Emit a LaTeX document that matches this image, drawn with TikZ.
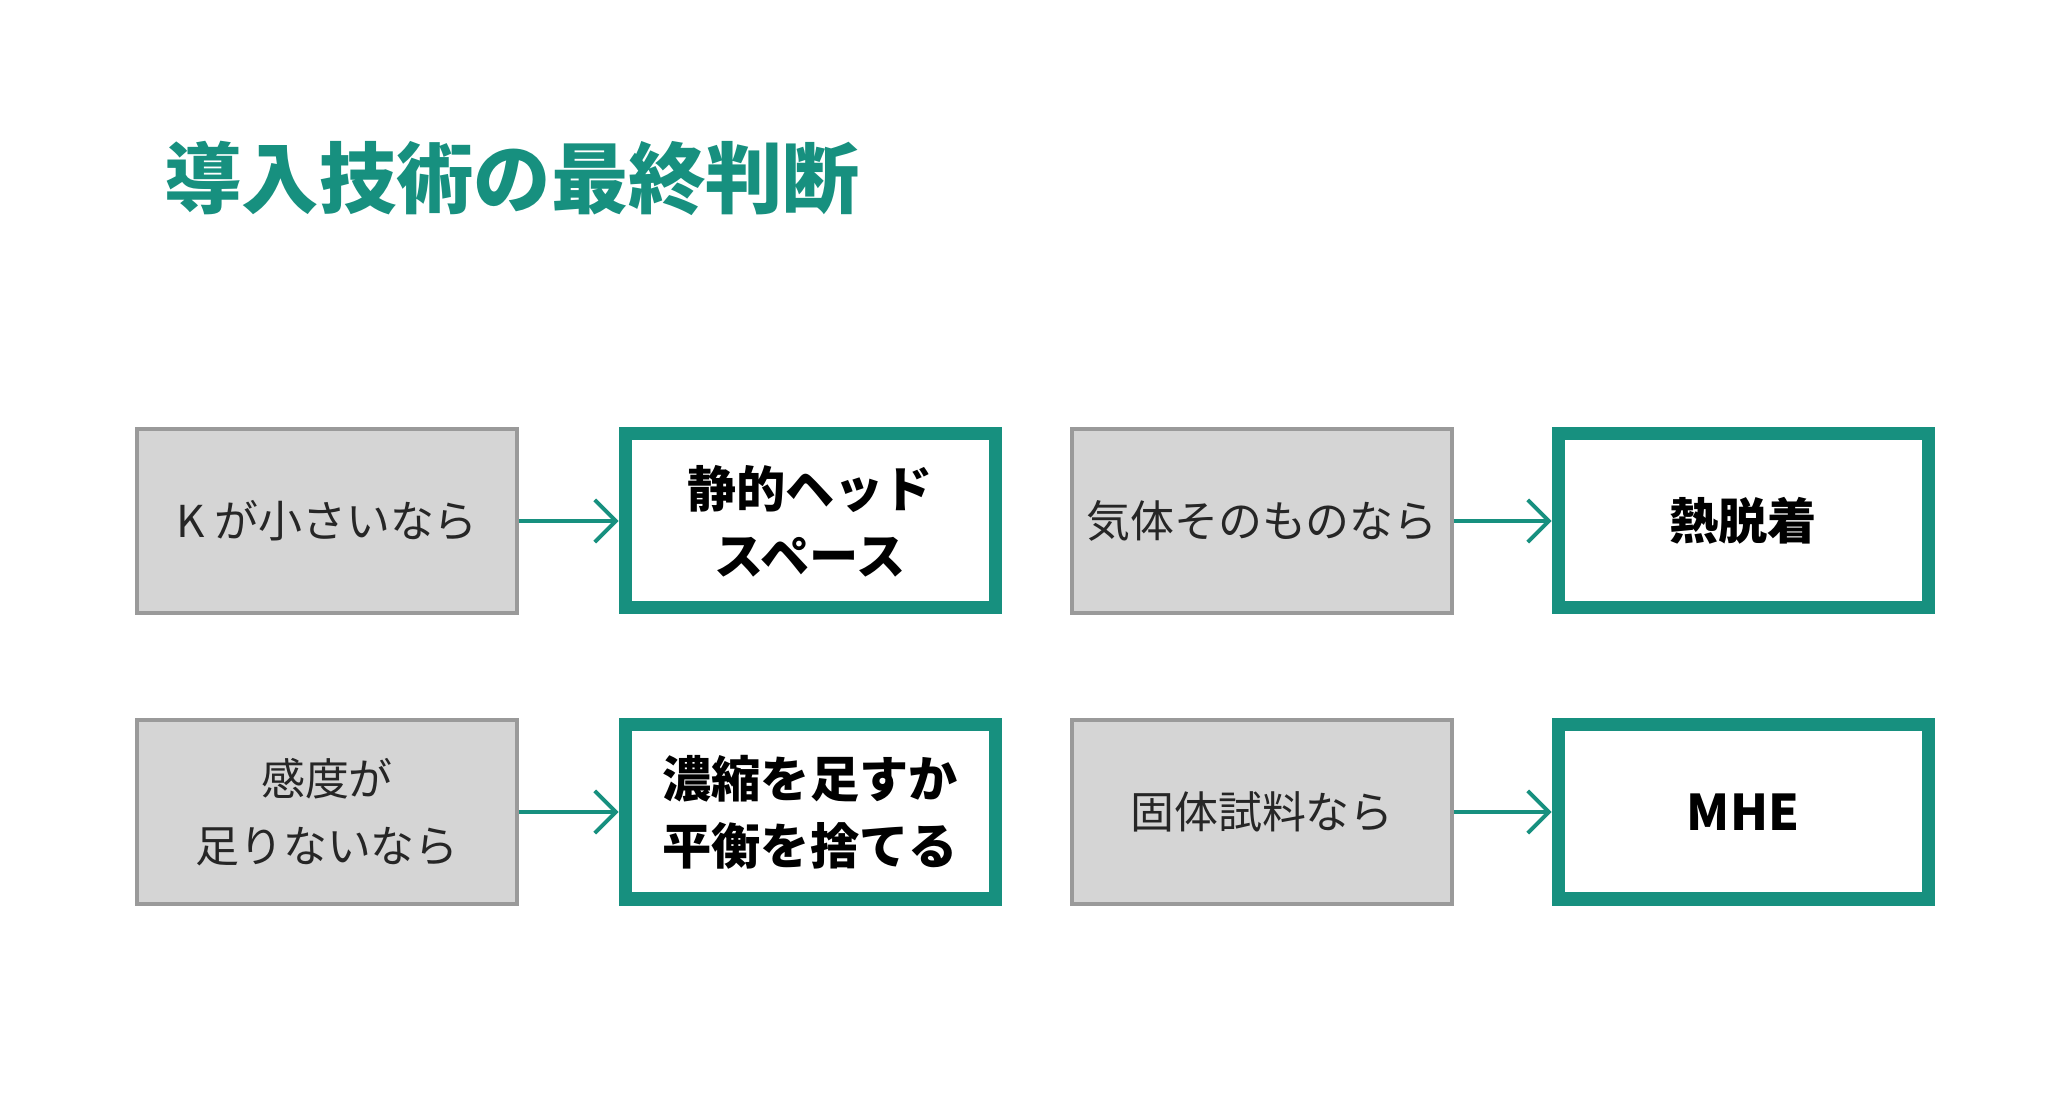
\documentclass[tikz,border=0pt]{standalone}
\usepackage{fontspec}
\setmainfont{Noto Sans CJK JP}
\newfontfamily\cjk{Noto Sans CJK JP}
\usetikzlibrary{arrows.meta}
\definecolor{teal1}{HTML}{17907F}
\definecolor{boxgray}{HTML}{D5D5D5}
\definecolor{edgegray}{HTML}{9A9A9A}
\tikzset{
  cond/.style={draw=edgegray, line width=1pt, fill=boxgray, minimum width=3.8cm, minimum height=1.84cm, inner sep=0pt, align=center, font=\cjk\fontsize{12.5}{19}\selectfont, text=black!85},
  result/.style={draw=teal1, line width=3.7pt, fill=white, minimum width=3.7cm, minimum height=1.74cm, inner sep=0pt, align=center, font=\cjk\bfseries\fontsize{14}{19}\selectfont, text=black},
  go/.style={-{Straight Barb[length=6pt,width=12pt,line width=1.1pt]}, draw=teal1, line width=1.1pt}
}
\begin{document}
\begin{tikzpicture}
\useasboundingbox (0,0) rectangle (20.64,-11.01);
\node[anchor=west, text=teal1, font=\cjk\bfseries\fontsize{22}{27}\selectfont] (title) at (1.52,-1.78) {導入技術の最終判断};

\node[cond] (k) at (3.27,-5.21) {K が小さいなら};
\node[result] (hs) at (8.10,-5.21) {静的ヘッド\\スペース};
\node[cond] (gas) at (12.62,-5.21) {気体そのものなら};
\node[result] (td) at (17.43,-5.21) {熱脱着};
\node[cond] (sens) at (3.27,-8.12) {感度が\\足りないなら};
\node[result] (conc) at (8.10,-8.12) {濃縮を足すか\\平衡を捨てる};
\node[cond] (solid) at (12.62,-8.12) {固体試料なら};
\node[result] (mhe) at (17.43,-8.12) {MHE};

%% arrows
\draw[go] (k) -- (hs);
\draw[go] (gas) -- (td);
\draw[go] (sens) -- (conc);
\draw[go] (solid) -- (mhe);
\end{tikzpicture}
\end{document}
